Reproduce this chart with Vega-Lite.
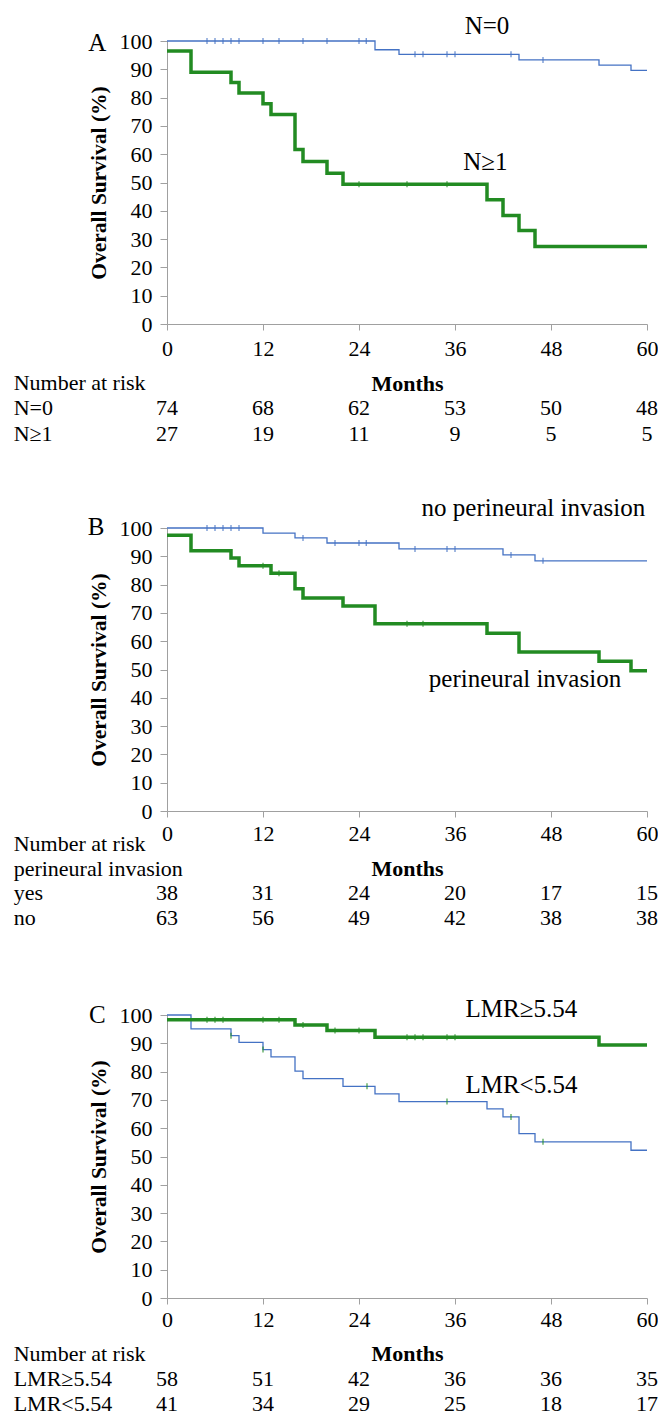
{
  "$schema": "https://vega.github.io/schema/vega-lite/v6.json",
  "padding": {"left": 13, "top": 14, "right": 0, "bottom": 0},
  "background": "white",
  "config": {
    "font": "Liberation Serif, serif",
    "view": {"stroke": null},
    "axis": {"grid": false, "domainColor": "#a0a0a0", "tickColor": "#a0a0a0", "labelColor": "black", "titleColor": "black", "labelFont": "Liberation Serif, serif", "titleFont": "Liberation Serif, serif", "labelFontSize": 22, "titleFontSize": 22, "titleFontWeight": "bold", "labelFlush": false, "labelOverlap": false},
    "axisY": {"tickCount": 11, "titleFontSize": 21.5},
    "text": {"color": "black", "font": "Liberation Serif, serif"}
  },
  "datasets": {
    "km": [
      {"panel": "A", "group": "N=0", "month": 0, "surv": 100},
      {"panel": "A", "group": "N=0", "month": 26, "surv": 96.9},
      {"panel": "A", "group": "N=0", "month": 29, "surv": 95.3},
      {"panel": "A", "group": "N=0", "month": 44, "surv": 93.3},
      {"panel": "A", "group": "N=0", "month": 54, "surv": 91.5},
      {"panel": "A", "group": "N=0", "month": 58, "surv": 89.6},
      {"panel": "A", "group": "N=0", "month": 60, "surv": 89.6},
      {"panel": "A", "group": "N≥1", "month": 0, "surv": 96.5},
      {"panel": "A", "group": "N≥1", "month": 3, "surv": 89},
      {"panel": "A", "group": "N≥1", "month": 8, "surv": 85.3},
      {"panel": "A", "group": "N≥1", "month": 9, "surv": 81.6},
      {"panel": "A", "group": "N≥1", "month": 12, "surv": 77.8},
      {"panel": "A", "group": "N≥1", "month": 13, "surv": 74},
      {"panel": "A", "group": "N≥1", "month": 16, "surv": 61.7},
      {"panel": "A", "group": "N≥1", "month": 17, "surv": 57.4},
      {"panel": "A", "group": "N≥1", "month": 20, "surv": 53.3},
      {"panel": "A", "group": "N≥1", "month": 22, "surv": 49.4},
      {"panel": "A", "group": "N≥1", "month": 40, "surv": 43.9},
      {"panel": "A", "group": "N≥1", "month": 42, "surv": 38.3},
      {"panel": "A", "group": "N≥1", "month": 44, "surv": 33},
      {"panel": "A", "group": "N≥1", "month": 46, "surv": 27.4},
      {"panel": "A", "group": "N≥1", "month": 60, "surv": 27.4},
      {"panel": "B", "group": "no", "month": 0, "surv": 100},
      {"panel": "B", "group": "no", "month": 12, "surv": 98.2},
      {"panel": "B", "group": "no", "month": 16, "surv": 96.5},
      {"panel": "B", "group": "no", "month": 20, "surv": 94.7},
      {"panel": "B", "group": "no", "month": 29, "surv": 92.6},
      {"panel": "B", "group": "no", "month": 42, "surv": 90.5},
      {"panel": "B", "group": "no", "month": 46, "surv": 88.4},
      {"panel": "B", "group": "no", "month": 60, "surv": 88.4},
      {"panel": "B", "group": "yes", "month": 0, "surv": 97.4},
      {"panel": "B", "group": "yes", "month": 3, "surv": 92},
      {"panel": "B", "group": "yes", "month": 8, "surv": 89.4},
      {"panel": "B", "group": "yes", "month": 9, "surv": 86.7},
      {"panel": "B", "group": "yes", "month": 13, "surv": 84},
      {"panel": "B", "group": "yes", "month": 16, "surv": 78.5},
      {"panel": "B", "group": "yes", "month": 17, "surv": 75.3},
      {"panel": "B", "group": "yes", "month": 22, "surv": 72.4},
      {"panel": "B", "group": "yes", "month": 26, "surv": 66.2},
      {"panel": "B", "group": "yes", "month": 40, "surv": 62.8},
      {"panel": "B", "group": "yes", "month": 44, "surv": 56.2},
      {"panel": "B", "group": "yes", "month": 54, "surv": 52.9},
      {"panel": "B", "group": "yes", "month": 58, "surv": 49.6},
      {"panel": "B", "group": "yes", "month": 60, "surv": 49.6},
      {"panel": "C", "group": "LMR≥5.54", "month": 0, "surv": 98.3},
      {"panel": "C", "group": "LMR≥5.54", "month": 16, "surv": 96.5},
      {"panel": "C", "group": "LMR≥5.54", "month": 20, "surv": 94.5},
      {"panel": "C", "group": "LMR≥5.54", "month": 26, "surv": 92.1},
      {"panel": "C", "group": "LMR≥5.54", "month": 54, "surv": 89.4},
      {"panel": "C", "group": "LMR≥5.54", "month": 60, "surv": 89.4},
      {"panel": "C", "group": "LMR<5.54", "month": 0, "surv": 100},
      {"panel": "C", "group": "LMR<5.54", "month": 3, "surv": 95.1},
      {"panel": "C", "group": "LMR<5.54", "month": 8, "surv": 92.7},
      {"panel": "C", "group": "LMR<5.54", "month": 9, "surv": 90.3},
      {"panel": "C", "group": "LMR<5.54", "month": 12, "surv": 87.8},
      {"panel": "C", "group": "LMR<5.54", "month": 13, "surv": 85.2},
      {"panel": "C", "group": "LMR<5.54", "month": 16, "surv": 80.2},
      {"panel": "C", "group": "LMR<5.54", "month": 17, "surv": 77.5},
      {"panel": "C", "group": "LMR<5.54", "month": 22, "surv": 74.8},
      {"panel": "C", "group": "LMR<5.54", "month": 26, "surv": 72.1},
      {"panel": "C", "group": "LMR<5.54", "month": 29, "surv": 69.4},
      {"panel": "C", "group": "LMR<5.54", "month": 40, "surv": 66.8},
      {"panel": "C", "group": "LMR<5.54", "month": 42, "surv": 64},
      {"panel": "C", "group": "LMR<5.54", "month": 44, "surv": 58.1},
      {"panel": "C", "group": "LMR<5.54", "month": 46, "surv": 55.2},
      {"panel": "C", "group": "LMR<5.54", "month": 58, "surv": 52.2},
      {"panel": "C", "group": "LMR<5.54", "month": 60, "surv": 52.2}
    ],
    "cens": [
      {"panel": "A", "group": "N=0", "month": 5, "surv": 100},
      {"panel": "A", "group": "N=0", "month": 6, "surv": 100},
      {"panel": "A", "group": "N=0", "month": 7, "surv": 100},
      {"panel": "A", "group": "N=0", "month": 8, "surv": 100},
      {"panel": "A", "group": "N=0", "month": 9, "surv": 100},
      {"panel": "A", "group": "N=0", "month": 12, "surv": 100},
      {"panel": "A", "group": "N=0", "month": 14, "surv": 100},
      {"panel": "A", "group": "N=0", "month": 17, "surv": 100},
      {"panel": "A", "group": "N=0", "month": 20, "surv": 100},
      {"panel": "A", "group": "N=0", "month": 24, "surv": 100},
      {"panel": "A", "group": "N=0", "month": 24.9, "surv": 100},
      {"panel": "A", "group": "N=0", "month": 31, "surv": 95.3},
      {"panel": "A", "group": "N=0", "month": 32, "surv": 95.3},
      {"panel": "A", "group": "N=0", "month": 35, "surv": 95.3},
      {"panel": "A", "group": "N=0", "month": 36, "surv": 95.3},
      {"panel": "A", "group": "N=0", "month": 43, "surv": 95.3},
      {"panel": "A", "group": "N=0", "month": 47, "surv": 93.3},
      {"panel": "A", "group": "N≥1", "month": 24, "surv": 49.4},
      {"panel": "A", "group": "N≥1", "month": 30, "surv": 49.4},
      {"panel": "A", "group": "N≥1", "month": 35, "surv": 49.4},
      {"panel": "B", "group": "no", "month": 5, "surv": 100},
      {"panel": "B", "group": "no", "month": 6, "surv": 100},
      {"panel": "B", "group": "no", "month": 7, "surv": 100},
      {"panel": "B", "group": "no", "month": 8, "surv": 100},
      {"panel": "B", "group": "no", "month": 9, "surv": 100},
      {"panel": "B", "group": "no", "month": 17, "surv": 96.5},
      {"panel": "B", "group": "no", "month": 21, "surv": 94.7},
      {"panel": "B", "group": "no", "month": 24, "surv": 94.7},
      {"panel": "B", "group": "no", "month": 24.9, "surv": 94.7},
      {"panel": "B", "group": "no", "month": 31, "surv": 92.6},
      {"panel": "B", "group": "no", "month": 35, "surv": 92.6},
      {"panel": "B", "group": "no", "month": 36, "surv": 92.6},
      {"panel": "B", "group": "no", "month": 43, "surv": 90.5},
      {"panel": "B", "group": "no", "month": 47, "surv": 88.4},
      {"panel": "B", "group": "yes", "month": 12, "surv": 86.7},
      {"panel": "B", "group": "yes", "month": 14, "surv": 84},
      {"panel": "B", "group": "yes", "month": 30, "surv": 66.2},
      {"panel": "B", "group": "yes", "month": 32, "surv": 66.2},
      {"panel": "C", "group": "LMR≥5.54", "month": 5, "surv": 98.3},
      {"panel": "C", "group": "LMR≥5.54", "month": 6, "surv": 98.3},
      {"panel": "C", "group": "LMR≥5.54", "month": 7, "surv": 98.3},
      {"panel": "C", "group": "LMR≥5.54", "month": 12, "surv": 98.3},
      {"panel": "C", "group": "LMR≥5.54", "month": 14, "surv": 98.3},
      {"panel": "C", "group": "LMR≥5.54", "month": 17, "surv": 96.5},
      {"panel": "C", "group": "LMR≥5.54", "month": 21, "surv": 94.5},
      {"panel": "C", "group": "LMR≥5.54", "month": 24, "surv": 94.5},
      {"panel": "C", "group": "LMR≥5.54", "month": 30, "surv": 92.1},
      {"panel": "C", "group": "LMR≥5.54", "month": 31, "surv": 92.1},
      {"panel": "C", "group": "LMR≥5.54", "month": 32, "surv": 92.1},
      {"panel": "C", "group": "LMR≥5.54", "month": 35, "surv": 92.1},
      {"panel": "C", "group": "LMR≥5.54", "month": 36, "surv": 92.1},
      {"panel": "C", "group": "LMR<5.54", "month": 8, "surv": 92.7},
      {"panel": "C", "group": "LMR<5.54", "month": 12, "surv": 87.8},
      {"panel": "C", "group": "LMR<5.54", "month": 25, "surv": 74.8},
      {"panel": "C", "group": "LMR<5.54", "month": 35, "surv": 69.4},
      {"panel": "C", "group": "LMR<5.54", "month": 43, "surv": 64},
      {"panel": "C", "group": "LMR<5.54", "month": 47, "surv": 55.2}
    ],
    "risk": [
      {"panel": "A", "row": 1, "month": 0, "n": 74},
      {"panel": "A", "row": 1, "month": 12, "n": 68},
      {"panel": "A", "row": 1, "month": 24, "n": 62},
      {"panel": "A", "row": 1, "month": 36, "n": 53},
      {"panel": "A", "row": 1, "month": 48, "n": 50},
      {"panel": "A", "row": 1, "month": 60, "n": 48},
      {"panel": "A", "row": 2, "month": 0, "n": 27},
      {"panel": "A", "row": 2, "month": 12, "n": 19},
      {"panel": "A", "row": 2, "month": 24, "n": 11},
      {"panel": "A", "row": 2, "month": 36, "n": 9},
      {"panel": "A", "row": 2, "month": 48, "n": 5},
      {"panel": "A", "row": 2, "month": 60, "n": 5},
      {"panel": "B", "row": 2, "month": 0, "n": 38},
      {"panel": "B", "row": 2, "month": 12, "n": 31},
      {"panel": "B", "row": 2, "month": 24, "n": 24},
      {"panel": "B", "row": 2, "month": 36, "n": 20},
      {"panel": "B", "row": 2, "month": 48, "n": 17},
      {"panel": "B", "row": 2, "month": 60, "n": 15},
      {"panel": "B", "row": 3, "month": 0, "n": 63},
      {"panel": "B", "row": 3, "month": 12, "n": 56},
      {"panel": "B", "row": 3, "month": 24, "n": 49},
      {"panel": "B", "row": 3, "month": 36, "n": 42},
      {"panel": "B", "row": 3, "month": 48, "n": 38},
      {"panel": "B", "row": 3, "month": 60, "n": 38},
      {"panel": "C", "row": 1, "month": 0, "n": 58},
      {"panel": "C", "row": 1, "month": 12, "n": 51},
      {"panel": "C", "row": 1, "month": 24, "n": 42},
      {"panel": "C", "row": 1, "month": 36, "n": 36},
      {"panel": "C", "row": 1, "month": 48, "n": 36},
      {"panel": "C", "row": 1, "month": 60, "n": 35},
      {"panel": "C", "row": 2, "month": 0, "n": 41},
      {"panel": "C", "row": 2, "month": 12, "n": 34},
      {"panel": "C", "row": 2, "month": 24, "n": 29},
      {"panel": "C", "row": 2, "month": 36, "n": 25},
      {"panel": "C", "row": 2, "month": 48, "n": 18},
      {"panel": "C", "row": 2, "month": 60, "n": 17}
    ],
    "rowlabels": [
      {"panel": "A", "row": 0, "label": "Number at risk"},
      {"panel": "A", "row": 1, "label": "N=0"},
      {"panel": "A", "row": 2, "label": "N≥1"},
      {"panel": "B", "row": 0, "label": "Number at risk"},
      {"panel": "B", "row": 1, "label": "perineural invasion"},
      {"panel": "B", "row": 2, "label": "yes"},
      {"panel": "B", "row": 3, "label": "no"},
      {"panel": "C", "row": 0, "label": "Number at risk"},
      {"panel": "C", "row": 1, "label": "LMR≥5.54"},
      {"panel": "C", "row": 2, "label": "LMR<5.54"}
    ],
    "notes": [
      {"panel": "A", "note": "A"},
      {"panel": "A", "note": "N=0"},
      {"panel": "A", "note": "N≥1"},
      {"panel": "B", "note": "B"},
      {"panel": "B", "note": "no perineural invasion"},
      {"panel": "B", "note": "perineural invasion"},
      {"panel": "C", "note": "C"},
      {"panel": "C", "note": "LMR≥5.54"},
      {"panel": "C", "note": "LMR<5.54"}
    ]
  },
  "spacing": 204,
  "bounds": "flush",
  "resolve": {"scale": {"x": "independent", "y": "independent"}},
  "vconcat": [
    {
      "width": 480, "height": 283,
      "resolve": {"scale": {"y": "independent"}},
      "layer": [
        {"layer": [
          {"data": {"name": "km"}, "transform": [{"filter": "datum.panel === 'A' && datum.group === 'N=0'"}],
           "mark": {"type": "line", "interpolate": "step-after", "color": "#4472C4", "strokeWidth": 1.3},
           "encoding": {
             "x": {"field": "month", "type": "quantitative", "scale": {"domain": [0, 60], "nice": false, "zero": false},
                   "axis": {"values": [0, 12, 24, 36, 48, 60], "title": "Months", "tickSize": 6, "labelPadding": 25, "labelBaseline": "alphabetic", "titlePadding": 14, "labelOverlap": false, "labelFlush": false}},
             "y": {"field": "surv", "type": "quantitative", "scale": {"domain": [0, 100], "nice": false, "zero": false},
                   "axis": {"values": [0, 10, 20, 30, 40, 50, 60, 70, 80, 90, 100], "tickCount": 11, "title": "Overall Survival (%)", "tickSize": 7, "labelPadding": 8, "titlePadding": 9, "labelOverlap": false, "labelFlush": false, "labelBound": false}}
           }},
          {"data": {"name": "km"}, "transform": [{"filter": "datum.panel === 'A' && datum.group === 'N≥1'"}],
           "mark": {"type": "line", "interpolate": "step-after", "color": "#228B22", "strokeWidth": 3.5},
           "encoding": {
             "x": {"field": "month", "type": "quantitative", "scale": {"domain": [0, 60], "nice": false, "zero": false}},
             "y": {"field": "surv", "type": "quantitative", "scale": {"domain": [0, 100], "nice": false, "zero": false},
                   "axis": {"values": [0, 10, 20, 30, 40, 50, 60, 70, 80, 90, 100], "tickCount": 11, "title": "Overall Survival (%)", "tickSize": 7, "labelPadding": 8, "titlePadding": 9, "labelOverlap": false, "labelFlush": false, "labelBound": false}}
           }},
          {"data": {"name": "cens"}, "transform": [{"filter": "datum.panel === 'A' && datum.group === 'N=0'"}],
           "mark": {"type": "tick", "orient": "vertical", "size": 6, "thickness": 1, "color": "#4472C4", "opacity": 1},
           "encoding": {
             "x": {"field": "month", "type": "quantitative", "scale": {"domain": [0, 60], "nice": false, "zero": false}},
             "y": {"field": "surv", "type": "quantitative", "scale": {"domain": [0, 100], "nice": false, "zero": false},
                   "axis": {"values": [0, 10, 20, 30, 40, 50, 60, 70, 80, 90, 100], "tickCount": 11, "title": "Overall Survival (%)", "tickSize": 7, "labelPadding": 8, "titlePadding": 9, "labelOverlap": false, "labelFlush": false, "labelBound": false}}
           }},
          {"data": {"name": "cens"}, "transform": [{"filter": "datum.panel === 'A' && datum.group === 'N≥1'"}],
           "mark": {"type": "tick", "orient": "vertical", "size": 6, "thickness": 1, "color": "#228B22", "opacity": 1},
           "encoding": {
             "x": {"field": "month", "type": "quantitative", "scale": {"domain": [0, 60], "nice": false, "zero": false}},
             "y": {"field": "surv", "type": "quantitative", "scale": {"domain": [0, 100], "nice": false, "zero": false},
                   "axis": {"values": [0, 10, 20, 30, 40, 50, 60, 70, 80, 90, 100], "tickCount": 11, "title": "Overall Survival (%)", "tickSize": 7, "labelPadding": 8, "titlePadding": 9, "labelOverlap": false, "labelFlush": false, "labelBound": false}}
           }},
          {"data": {"name": "notes"}, "transform": [{"filter": "datum.note === 'A'"}],
           "mark": {"type": "text", "fontSize": 25, "align": "center", "baseline": "alphabetic", "font": "Liberation Serif, serif"},
           "encoding": {
             "text": {"field": "note"},
             "x": {"datum": -8.7, "type": "quantitative", "scale": {"domain": [0, 60], "nice": false, "zero": false}},
             "y": {"datum": 96.5, "type": "quantitative", "scale": {"domain": [0, 100], "nice": false, "zero": false},
                   "axis": {"values": [0, 10, 20, 30, 40, 50, 60, 70, 80, 90, 100], "tickCount": 11, "title": "Overall Survival (%)", "tickSize": 7, "labelPadding": 8, "titlePadding": 9, "labelOverlap": false, "labelFlush": false, "labelBound": false}}
           }},
          {"data": {"name": "notes"}, "transform": [{"filter": "datum.note === 'N=0'"}],
           "mark": {"type": "text", "fontSize": 25, "align": "center", "baseline": "alphabetic", "font": "Liberation Serif, serif"},
           "encoding": {
             "text": {"field": "note"},
             "x": {"datum": 40, "type": "quantitative", "scale": {"domain": [0, 60], "nice": false, "zero": false}},
             "y": {"datum": 102.4, "type": "quantitative", "scale": {"domain": [0, 100], "nice": false, "zero": false},
                   "axis": {"values": [0, 10, 20, 30, 40, 50, 60, 70, 80, 90, 100], "tickCount": 11, "title": "Overall Survival (%)", "tickSize": 7, "labelPadding": 8, "titlePadding": 9, "labelOverlap": false, "labelFlush": false, "labelBound": false}}
           }},
          {"data": {"name": "notes"}, "transform": [{"filter": "datum.note === 'N≥1'"}],
           "mark": {"type": "text", "fontSize": 25, "align": "center", "baseline": "alphabetic", "font": "Liberation Serif, serif"},
           "encoding": {
             "text": {"field": "note"},
             "x": {"datum": 39.8, "type": "quantitative", "scale": {"domain": [0, 60], "nice": false, "zero": false}},
             "y": {"datum": 54.4, "type": "quantitative", "scale": {"domain": [0, 100], "nice": false, "zero": false},
                   "axis": {"values": [0, 10, 20, 30, 40, 50, 60, 70, 80, 90, 100], "tickCount": 11, "title": "Overall Survival (%)", "tickSize": 7, "labelPadding": 8, "titlePadding": 9, "labelOverlap": false, "labelFlush": false, "labelBound": false}}
           }}
        ]},
        {"layer": [
          {"data": {"name": "risk"}, "transform": [{"filter": "datum.panel === 'A'"}],
           "mark": {"type": "text", "fontSize": 22, "align": "center", "baseline": "alphabetic", "font": "Liberation Serif, serif"},
           "encoding": {
             "text": {"field": "n", "type": "quantitative"},
             "x": {"field": "month", "type": "quantitative", "scale": {"domain": [0, 60], "nice": false, "zero": false}},
             "y": {"field": "row", "type": "quantitative", "scale": {"domain": [-13.767, -2.603], "nice": false, "zero": false, "reverse": true}, "axis": null}
           }},
          {"data": {"name": "rowlabels"}, "transform": [{"filter": "datum.panel === 'A'"}],
           "mark": {"type": "text", "fontSize": 22, "align": "left", "baseline": "alphabetic", "font": "Liberation Serif, serif"},
           "encoding": {
             "text": {"field": "label"},
             "x": {"datum": -19.17, "type": "quantitative", "scale": {"domain": [0, 60], "nice": false, "zero": false}},
             "y": {"field": "row", "type": "quantitative", "scale": {"domain": [-13.767, -2.603], "nice": false, "zero": false, "reverse": true}, "axis": null}
           }}
        ]}
      ]
    },
    {
      "width": 480, "height": 283,
      "resolve": {"scale": {"y": "independent"}},
      "layer": [
        {"layer": [
          {"data": {"name": "km"}, "transform": [{"filter": "datum.panel === 'B' && datum.group === 'no'"}],
           "mark": {"type": "line", "interpolate": "step-after", "color": "#4472C4", "strokeWidth": 1.3},
           "encoding": {
             "x": {"field": "month", "type": "quantitative", "scale": {"domain": [0, 60], "nice": false, "zero": false},
                   "axis": {"values": [0, 12, 24, 36, 48, 60], "title": "Months", "tickSize": 6, "labelPadding": 23, "labelBaseline": "alphabetic", "titlePadding": 14, "labelOverlap": false, "labelFlush": false}},
             "y": {"field": "surv", "type": "quantitative", "scale": {"domain": [0, 100], "nice": false, "zero": false},
                   "axis": {"values": [0, 10, 20, 30, 40, 50, 60, 70, 80, 90, 100], "tickCount": 11, "title": "Overall Survival (%)", "tickSize": 7, "labelPadding": 8, "titlePadding": 9, "labelOverlap": false, "labelFlush": false, "labelBound": false}}
           }},
          {"data": {"name": "km"}, "transform": [{"filter": "datum.panel === 'B' && datum.group === 'yes'"}],
           "mark": {"type": "line", "interpolate": "step-after", "color": "#228B22", "strokeWidth": 3.5},
           "encoding": {
             "x": {"field": "month", "type": "quantitative", "scale": {"domain": [0, 60], "nice": false, "zero": false}},
             "y": {"field": "surv", "type": "quantitative", "scale": {"domain": [0, 100], "nice": false, "zero": false},
                   "axis": {"values": [0, 10, 20, 30, 40, 50, 60, 70, 80, 90, 100], "tickCount": 11, "title": "Overall Survival (%)", "tickSize": 7, "labelPadding": 8, "titlePadding": 9, "labelOverlap": false, "labelFlush": false, "labelBound": false}}
           }},
          {"data": {"name": "cens"}, "transform": [{"filter": "datum.panel === 'B' && datum.group === 'no'"}],
           "mark": {"type": "tick", "orient": "vertical", "size": 6, "thickness": 1, "color": "#4472C4", "opacity": 1},
           "encoding": {
             "x": {"field": "month", "type": "quantitative", "scale": {"domain": [0, 60], "nice": false, "zero": false}},
             "y": {"field": "surv", "type": "quantitative", "scale": {"domain": [0, 100], "nice": false, "zero": false},
                   "axis": {"values": [0, 10, 20, 30, 40, 50, 60, 70, 80, 90, 100], "tickCount": 11, "title": "Overall Survival (%)", "tickSize": 7, "labelPadding": 8, "titlePadding": 9, "labelOverlap": false, "labelFlush": false, "labelBound": false}}
           }},
          {"data": {"name": "cens"}, "transform": [{"filter": "datum.panel === 'B' && datum.group === 'yes'"}],
           "mark": {"type": "tick", "orient": "vertical", "size": 6, "thickness": 1, "color": "#228B22", "opacity": 1},
           "encoding": {
             "x": {"field": "month", "type": "quantitative", "scale": {"domain": [0, 60], "nice": false, "zero": false}},
             "y": {"field": "surv", "type": "quantitative", "scale": {"domain": [0, 100], "nice": false, "zero": false},
                   "axis": {"values": [0, 10, 20, 30, 40, 50, 60, 70, 80, 90, 100], "tickCount": 11, "title": "Overall Survival (%)", "tickSize": 7, "labelPadding": 8, "titlePadding": 9, "labelOverlap": false, "labelFlush": false, "labelBound": false}}
           }},
          {"data": {"name": "notes"}, "transform": [{"filter": "datum.note === 'B'"}],
           "mark": {"type": "text", "fontSize": 25, "align": "center", "baseline": "alphabetic", "font": "Liberation Serif, serif"},
           "encoding": {
             "text": {"field": "note"},
             "x": {"datum": -8.85, "type": "quantitative", "scale": {"domain": [0, 60], "nice": false, "zero": false}},
             "y": {"datum": 97.7, "type": "quantitative", "scale": {"domain": [0, 100], "nice": false, "zero": false},
                   "axis": {"values": [0, 10, 20, 30, 40, 50, 60, 70, 80, 90, 100], "tickCount": 11, "title": "Overall Survival (%)", "tickSize": 7, "labelPadding": 8, "titlePadding": 9, "labelOverlap": false, "labelFlush": false, "labelBound": false}}
           }},
          {"data": {"name": "notes"}, "transform": [{"filter": "datum.note === 'no perineural invasion'"}],
           "mark": {"type": "text", "fontSize": 25, "align": "center", "baseline": "alphabetic", "font": "Liberation Serif, serif"},
           "encoding": {
             "text": {"field": "note"},
             "x": {"datum": 45.8, "type": "quantitative", "scale": {"domain": [0, 60], "nice": false, "zero": false}},
             "y": {"datum": 104.1, "type": "quantitative", "scale": {"domain": [0, 100], "nice": false, "zero": false},
                   "axis": {"values": [0, 10, 20, 30, 40, 50, 60, 70, 80, 90, 100], "tickCount": 11, "title": "Overall Survival (%)", "tickSize": 7, "labelPadding": 8, "titlePadding": 9, "labelOverlap": false, "labelFlush": false, "labelBound": false}}
           }},
          {"data": {"name": "notes"}, "transform": [{"filter": "datum.note === 'perineural invasion'"}],
           "mark": {"type": "text", "fontSize": 25, "align": "center", "baseline": "alphabetic", "font": "Liberation Serif, serif"},
           "encoding": {
             "text": {"field": "note"},
             "x": {"datum": 44.75, "type": "quantitative", "scale": {"domain": [0, 60], "nice": false, "zero": false}},
             "y": {"datum": 43.9, "type": "quantitative", "scale": {"domain": [0, 100], "nice": false, "zero": false},
                   "axis": {"values": [0, 10, 20, 30, 40, 50, 60, 70, 80, 90, 100], "tickCount": 11, "title": "Overall Survival (%)", "tickSize": 7, "labelPadding": 8, "titlePadding": 9, "labelOverlap": false, "labelFlush": false, "labelBound": false}}
           }}
        ]},
        {"layer": [
          {"data": {"name": "risk"}, "transform": [{"filter": "datum.panel === 'B'"}],
           "mark": {"type": "text", "fontSize": 22, "align": "center", "baseline": "alphabetic", "font": "Liberation Serif, serif"},
           "encoding": {
             "text": {"field": "n", "type": "quantitative"},
             "x": {"field": "month", "type": "quantitative", "scale": {"domain": [0, 60], "nice": false, "zero": false}},
             "y": {"field": "row", "type": "quantitative", "scale": {"domain": [-13.012, -1.601], "nice": false, "zero": false, "reverse": true}, "axis": null}
           }},
          {"data": {"name": "rowlabels"}, "transform": [{"filter": "datum.panel === 'B'"}],
           "mark": {"type": "text", "fontSize": 22, "align": "left", "baseline": "alphabetic", "font": "Liberation Serif, serif"},
           "encoding": {
             "text": {"field": "label"},
             "x": {"datum": -19.17, "type": "quantitative", "scale": {"domain": [0, 60], "nice": false, "zero": false}},
             "y": {"field": "row", "type": "quantitative", "scale": {"domain": [-13.012, -1.601], "nice": false, "zero": false, "reverse": true}, "axis": null}
           }}
        ]}
      ]
    },
    {
      "width": 480, "height": 283,
      "resolve": {"scale": {"y": "independent"}},
      "layer": [
        {"layer": [
          {"data": {"name": "km"}, "transform": [{"filter": "datum.panel === 'C' && datum.group === 'LMR<5.54'"}],
           "mark": {"type": "line", "interpolate": "step-after", "color": "#4472C4", "strokeWidth": 1.3},
           "encoding": {
             "x": {"field": "month", "type": "quantitative", "scale": {"domain": [0, 60], "nice": false, "zero": false},
                   "axis": {"values": [0, 12, 24, 36, 48, 60], "title": "Months", "tickSize": 6, "labelPadding": 22, "labelBaseline": "alphabetic", "titlePadding": 13, "labelOverlap": false, "labelFlush": false}},
             "y": {"field": "surv", "type": "quantitative", "scale": {"domain": [0, 100], "nice": false, "zero": false},
                   "axis": {"values": [0, 10, 20, 30, 40, 50, 60, 70, 80, 90, 100], "tickCount": 11, "title": "Overall Survival (%)", "tickSize": 7, "labelPadding": 8, "titlePadding": 9, "labelOverlap": false, "labelFlush": false, "labelBound": false}}
           }},
          {"data": {"name": "km"}, "transform": [{"filter": "datum.panel === 'C' && datum.group === 'LMR≥5.54'"}],
           "mark": {"type": "line", "interpolate": "step-after", "color": "#228B22", "strokeWidth": 3.5},
           "encoding": {
             "x": {"field": "month", "type": "quantitative", "scale": {"domain": [0, 60], "nice": false, "zero": false}},
             "y": {"field": "surv", "type": "quantitative", "scale": {"domain": [0, 100], "nice": false, "zero": false},
                   "axis": {"values": [0, 10, 20, 30, 40, 50, 60, 70, 80, 90, 100], "tickCount": 11, "title": "Overall Survival (%)", "tickSize": 7, "labelPadding": 8, "titlePadding": 9, "labelOverlap": false, "labelFlush": false, "labelBound": false}}
           }},
          {"data": {"name": "cens"}, "transform": [{"filter": "datum.panel === 'C'"}],
           "mark": {"type": "tick", "orient": "vertical", "size": 6, "thickness": 1, "color": "#228B22", "opacity": 1},
           "encoding": {
             "x": {"field": "month", "type": "quantitative", "scale": {"domain": [0, 60], "nice": false, "zero": false}},
             "y": {"field": "surv", "type": "quantitative", "scale": {"domain": [0, 100], "nice": false, "zero": false},
                   "axis": {"values": [0, 10, 20, 30, 40, 50, 60, 70, 80, 90, 100], "tickCount": 11, "title": "Overall Survival (%)", "tickSize": 7, "labelPadding": 8, "titlePadding": 9, "labelOverlap": false, "labelFlush": false, "labelBound": false}}
           }},
          {"data": {"name": "notes"}, "transform": [{"filter": "datum.note === 'C'"}],
           "mark": {"type": "text", "fontSize": 25, "align": "center", "baseline": "alphabetic", "font": "Liberation Serif, serif"},
           "encoding": {
             "text": {"field": "note"},
             "x": {"datum": -8.7, "type": "quantitative", "scale": {"domain": [0, 60], "nice": false, "zero": false}},
             "y": {"datum": 97.3, "type": "quantitative", "scale": {"domain": [0, 100], "nice": false, "zero": false},
                   "axis": {"values": [0, 10, 20, 30, 40, 50, 60, 70, 80, 90, 100], "tickCount": 11, "title": "Overall Survival (%)", "tickSize": 7, "labelPadding": 8, "titlePadding": 9, "labelOverlap": false, "labelFlush": false, "labelBound": false}}
           }},
          {"data": {"name": "notes"}, "transform": [{"filter": "datum.note === 'LMR≥5.54'"}],
           "mark": {"type": "text", "fontSize": 25, "align": "center", "baseline": "alphabetic", "font": "Liberation Serif, serif"},
           "encoding": {
             "text": {"field": "note"},
             "x": {"datum": 44.3, "type": "quantitative", "scale": {"domain": [0, 60], "nice": false, "zero": false}},
             "y": {"datum": 99.4, "type": "quantitative", "scale": {"domain": [0, 100], "nice": false, "zero": false},
                   "axis": {"values": [0, 10, 20, 30, 40, 50, 60, 70, 80, 90, 100], "tickCount": 11, "title": "Overall Survival (%)", "tickSize": 7, "labelPadding": 8, "titlePadding": 9, "labelOverlap": false, "labelFlush": false, "labelBound": false}}
           }},
          {"data": {"name": "notes"}, "transform": [{"filter": "datum.note === 'LMR<5.54'"}],
           "mark": {"type": "text", "fontSize": 25, "align": "center", "baseline": "alphabetic", "font": "Liberation Serif, serif"},
           "encoding": {
             "text": {"field": "note"},
             "x": {"datum": 44.3, "type": "quantitative", "scale": {"domain": [0, 60], "nice": false, "zero": false}},
             "y": {"datum": 72.3, "type": "quantitative", "scale": {"domain": [0, 100], "nice": false, "zero": false},
                   "axis": {"values": [0, 10, 20, 30, 40, 50, 60, 70, 80, 90, 100], "tickCount": 11, "title": "Overall Survival (%)", "tickSize": 7, "labelPadding": 8, "titlePadding": 9, "labelOverlap": false, "labelFlush": false, "labelBound": false}}
           }}
        ]},
        {"layer": [
          {"data": {"name": "risk"}, "transform": [{"filter": "datum.panel === 'C'"}],
           "mark": {"type": "text", "fontSize": 22, "align": "center", "baseline": "alphabetic", "font": "Liberation Serif, serif"},
           "encoding": {
             "text": {"field": "n", "type": "quantitative"},
             "x": {"field": "month", "type": "quantitative", "scale": {"domain": [0, 60], "nice": false, "zero": false}},
             "y": {"field": "row", "type": "quantitative", "scale": {"domain": [-13.633, -2.469], "nice": false, "zero": false, "reverse": true}, "axis": null}
           }},
          {"data": {"name": "rowlabels"}, "transform": [{"filter": "datum.panel === 'C'"}],
           "mark": {"type": "text", "fontSize": 22, "align": "left", "baseline": "alphabetic", "font": "Liberation Serif, serif"},
           "encoding": {
             "text": {"field": "label"},
             "x": {"datum": -19.17, "type": "quantitative", "scale": {"domain": [0, 60], "nice": false, "zero": false}},
             "y": {"field": "row", "type": "quantitative", "scale": {"domain": [-13.633, -2.469], "nice": false, "zero": false, "reverse": true}, "axis": null}
           }}
        ]}
      ]
    }
  ]
}
